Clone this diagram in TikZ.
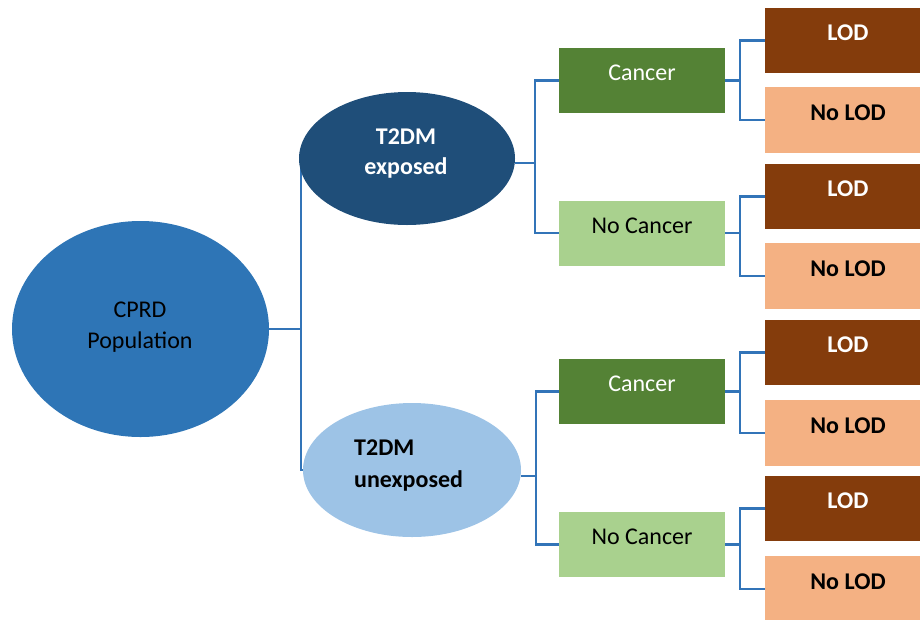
\documentclass[tikz,border=0pt]{standalone}
\usepackage{fontspec}
\setmainfont{Carlito}
\usetikzlibrary{shapes.geometric,backgrounds}
\definecolor{cprdblue}{HTML}{2E75B6}
\definecolor{expblue}{HTML}{1F4E79}
\definecolor{unexpblue}{HTML}{9DC3E6}
\definecolor{cancergreen}{HTML}{548235}
\definecolor{nocancergreen}{HTML}{A9D18E}
\definecolor{lodbrown}{HTML}{843C0C}
\definecolor{nolodpeach}{HTML}{F4B183}
\definecolor{linkblue}{HTML}{3274B8}
\tikzset{
  conn/.style={draw=linkblue, line width=2.8pt},
  oval/.style={ellipse, draw=none, inner sep=0pt},
  boxnode/.style={rectangle, draw=none, inner sep=0pt, minimum width=166pt, minimum height=65pt,
     text height=0pt, text depth=0pt, font=\fontsize{24pt}{30pt}\selectfont},
  cancerbox/.style={boxnode, fill=cancergreen, text=white},
  nocancerbox/.style={boxnode, fill=nocancergreen, text=black},
  lodbox/.style={boxnode, fill=lodbrown, text=white, font=\fontsize{24pt}{30pt}\selectfont\bfseries},
  nolodbox/.style={boxnode, fill=nolodpeach, text=black, font=\fontsize{24pt}{30pt}\selectfont\bfseries},
  lbl/.style={inner sep=0pt, font=\fontsize{24pt}{30pt}\selectfont},
  blbl/.style={lbl, font=\fontsize{24pt}{30pt}\selectfont\bfseries},
}
\begin{document}
\begin{tikzpicture}[x=1pt, y=-1pt]
\useasboundingbox (0,0) rectangle (920,619);

% ellipses
\node[oval, fill=cprdblue, minimum width=257pt, minimum height=216pt] (cprd) at (140.5,329) {};
\node[oval, fill=expblue, minimum width=216pt, minimum height=133pt] (exp) at (407,158.5) {};
\node[oval, fill=unexpblue, minimum width=218pt, minimum height=134pt] (unexp) at (412,470) {};

% category boxes
\node[cancerbox] (c1) at (642,80.5) {Cancer};
\node[nocancerbox] (nc1) at (642,233) {No Cancer};
\node[cancerbox] (c2) at (642,391.5) {Cancer};
\node[nocancerbox] (nc2) at (642,544.5) {No Cancer};

% outcome boxes
\node[lodbox] (l1) at (848,40.5) {LOD};
\node[nolodbox, minimum height=66pt] (n1) at (848,120) {No LOD};
\node[lodbox] (l2) at (848,196.5) {LOD};
\node[nolodbox, minimum height=66pt] (n2) at (848,276) {No LOD};
\node[lodbox] (l3) at (848,352.5) {LOD};
\node[nolodbox, minimum height=66pt] (n3) at (848,433) {No LOD};
\node[lodbox] (l4) at (848,508.5) {LOD};
\node[nolodbox, minimum height=66pt] (n4) at (848,589) {No LOD};

% ellipse texts
\node[lbl, anchor=base, text=black] (cprdA) at (140,317) {CPRD};
\node[lbl, anchor=base, text=black] (cprdB) at (140,348) {Population};
\node[blbl, anchor=base, text=white] (expA) at (406,144) {T2DM};
\node[blbl, anchor=base, text=white] (expB) at (406,174) {exposed};
\node[blbl, anchor=base west, text=black] (unexpA) at (354,455) {T2DM};
\node[blbl, anchor=base west, text=black] (unexpB) at (354,487) {unexposed};

% connectors
\coordinate (j0) at (301,329);
\coordinate (j1) at (535,163);
\coordinate (j2) at (536,476);
\coordinate (k1) at (740,80.5);
\coordinate (k2) at (740,233);
\coordinate (k3) at (740,391.5);
\coordinate (k4) at (740,544.5);

\begin{pgfonlayer}{background}
\draw[conn] (cprd.east) -- (j0);
\draw[conn] (exp.west) -| (j0) |- (unexp.west);
\draw[conn] (exp.east |- j1) -- (j1);
\draw[conn] (c1.west) -| (j1) |- (nc1.west);
\draw[conn] (unexp.east |- j2) -- (j2);
\draw[conn] (c2.west) -| (j2) |- (nc2.west);

\draw[conn] (c1.east) -- (k1);
\draw[conn] (l1.west) -| (k1) |- (n1.west);
\draw[conn] (nc1.east) -- (k2);
\draw[conn] (l2.west) -| (k2) |- (n2.west);
\draw[conn] (c2.east) -- (k3);
\draw[conn] (l3.west) -| (k3) |- (n3.west);
\draw[conn] (nc2.east) -- (k4);
\draw[conn] (l4.west) -| (k4) |- (n4.west);
\end{pgfonlayer}
\end{tikzpicture}
\end{document}
